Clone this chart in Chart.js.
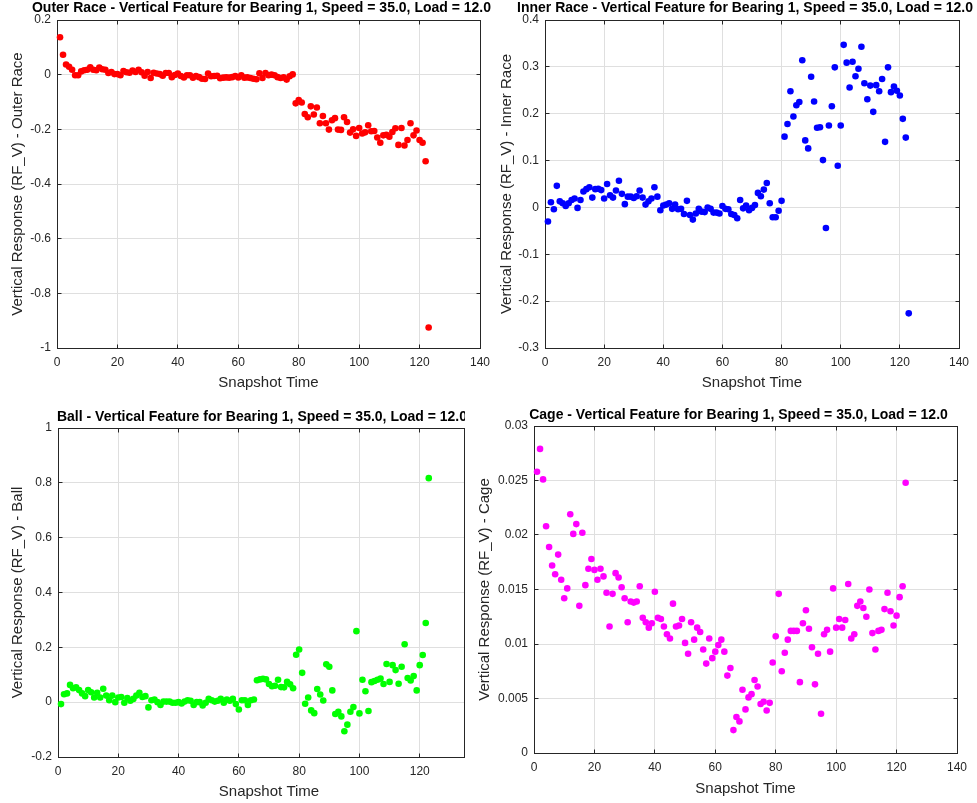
<!DOCTYPE html>
<html>
<head>
<meta charset="utf-8">
<title>Vertical Features for Bearing 1</title>
<script src="https://cdn.jsdelivr.net/npm/chart.js@4.4.1/dist/chart.umd.min.js"></script>
<style>
  html, body { margin: 0; padding: 0; background: #fff; width: 977px; height: 803px; overflow: hidden; }
  .panel { position: absolute; overflow: hidden; }
  .panel canvas { position: absolute; left: 0; top: 0; }
</style>
</head>
<body>
<div class="panel" id="wrapOuter"><canvas id="chartOuter"></canvas></div>
<div class="panel" id="wrapInner"><canvas id="chartInner"></canvas></div>
<div class="panel" id="wrapBall"><canvas id="chartBall"></canvas></div>
<div class="panel" id="wrapCage"><canvas id="chartCage"></canvas></div>
<script>
// Snapshot index for every measurement
const snapshotTimes = [
  1, 2, 3, 4, 5, 6, 7, 8, 9, 10, 11, 12, 13, 14, 15, 16, 17, 18, 19, 20,
  21, 22, 23, 24, 25, 26, 27, 28, 29, 30, 31, 32, 33, 34, 35, 36, 37, 38, 39, 40,
  41, 42, 43, 44, 45, 46, 47, 48, 49, 50, 51, 52, 53, 54, 55, 56, 57, 58, 59, 60,
  61, 62, 63, 64, 65, 66, 67, 68, 69, 70, 71, 72, 73, 74, 75, 76, 77, 78, 79, 80,
  81, 82, 83, 84, 85, 86, 87, 88, 89, 90, 91, 92, 93, 94, 95, 96, 97, 98, 99, 100,
  101, 102, 103, 104, 105, 106, 107, 108, 109, 110, 111, 112, 113, 114, 115, 116, 117, 118, 119, 120,
  121, 122, 123
];

// Vertical response (RF_V) per fault feature
const outerRace = [
  0.137, 0.073, 0.037, 0.029, 0.018, -0.002, -0.002, 0.012, 0.016, 0.018,
  0.027, 0.018, 0.016, 0.026, 0.020, 0.018, 0.006, 0.010, 0.002, 0.002,
  -0.002, 0.013, 0.009, 0.007, 0.015, 0.010, 0.018, 0.009, -0.004, 0.010,
  -0.012, 0.007, 0.004, 0.002, -0.004, 0.006, 0.006, -0.009, -0.001, 0.004,
  -0.005, -0.010, -0.002, -0.002, -0.011, -0.005, -0.009, -0.015, -0.016, 0.004,
  -0.006, -0.005, -0.004, -0.013, -0.011, -0.010, -0.011, -0.009, -0.005, -0.010,
  -0.002, -0.011, -0.010, -0.012, -0.015, -0.017, 0.005, -0.012, 0.006, -0.002,
  0.000, -0.002, -0.009, -0.012, -0.010, -0.018, -0.006, 0.001, -0.105, -0.093,
  -0.102, -0.144, -0.156, -0.116, -0.146, -0.120, -0.178, -0.151, -0.178, -0.201,
  -0.167, -0.159, -0.201, -0.202, -0.156, -0.173, -0.212, -0.200, -0.224, -0.195,
  -0.215, -0.211, -0.185, -0.207, -0.206, -0.230, -0.249, -0.222, -0.220, -0.227,
  -0.210, -0.196, -0.257, -0.195, -0.259, -0.239, -0.178, -0.222, -0.204, -0.239,
  -0.249, -0.317, -0.925
];

const innerRace = [
  -0.030, 0.011, -0.004, 0.046, 0.013, 0.009, 0.003, 0.009, 0.016, 0.019,
  -0.001, 0.016, 0.034, 0.039, 0.043, 0.021, 0.039, 0.040, 0.037, 0.019,
  0.050, 0.026, 0.021, 0.036, 0.057, 0.029, 0.007, 0.023, 0.023, 0.020,
  0.024, 0.036, 0.021, 0.006, 0.013, 0.019, 0.043, 0.023, -0.006, 0.004,
  0.006, 0.009, -0.003, 0.006, -0.004, -0.003, -0.014, 0.014, -0.016, -0.026,
  -0.013, -0.003, -0.009, -0.010, 0.000, -0.003, -0.011, -0.011, -0.013, 0.003,
  -0.003, -0.004, -0.014, -0.016, -0.023, 0.016, -0.002, 0.004, -0.006, -0.001,
  0.005, 0.031, 0.024, 0.038, 0.052, 0.009, -0.021, -0.021, -0.007, 0.014,
  0.151, 0.178, 0.248, 0.194, 0.218, 0.225, 0.314, 0.143, 0.126, 0.279,
  0.226, 0.170, 0.171, 0.101, -0.044, 0.175, 0.216, 0.299, 0.089, 0.175,
  0.347, 0.309, 0.256, 0.311, 0.280, 0.296, 0.343, 0.265, 0.231, 0.260,
  0.204, 0.261, 0.248, 0.274, 0.140, 0.299, 0.246, 0.258, 0.249, 0.239,
  0.189, 0.149, -0.226
];

const ball = [
  -0.007, 0.029, 0.032, 0.063, 0.051, 0.054, 0.044, 0.032, 0.022, 0.044,
  0.036, 0.017, 0.034, 0.017, 0.049, 0.024, 0.007, 0.024, 0.000, 0.017,
  0.019, -0.002, 0.015, 0.005, 0.012, 0.024, 0.034, 0.019, 0.022, -0.019,
  0.007, 0.010, 0.000, -0.010, 0.002, 0.002, 0.002, -0.002, -0.002, 0.000,
  -0.005, 0.002, 0.007, 0.005, -0.010, 0.000, 0.000, -0.012, -0.002, 0.012,
  0.007, 0.002, 0.005, 0.012, -0.002, 0.010, 0.005, 0.012, -0.007, -0.027,
  0.007, 0.007, -0.010, 0.007, 0.010, 0.080, 0.083, 0.085, 0.083, 0.066,
  0.058, 0.060, 0.082, 0.055, 0.054, 0.074, 0.065, 0.051, 0.173, 0.192,
  0.107, -0.006, 0.017, -0.030, -0.040, 0.048, 0.028, 0.006, 0.138, 0.129,
  0.043, -0.043, -0.035, -0.052, -0.106, -0.082, -0.035, -0.018, 0.259, -0.041,
  0.082, 0.040, -0.032, 0.073, 0.077, 0.082, 0.086, 0.066, 0.139, 0.074,
  0.135, 0.117, 0.067, 0.129, 0.211, 0.088, 0.079, 0.095, 0.043, 0.135,
  0.172, 0.289, 0.817
];

const cage = [
  0.0258, 0.0279, 0.0251, 0.0208, 0.0189, 0.0172, 0.0164, 0.0182, 0.0159, 0.0142,
  0.0151, 0.0219, 0.0201, 0.0210, 0.0135, 0.0202, 0.0154, 0.0169, 0.0178, 0.0168,
  0.0159, 0.0169, 0.0162, 0.0147, 0.0116, 0.0146, 0.0165, 0.0161, 0.0152, 0.0142,
  0.0120, 0.0139, 0.0138, 0.0139, 0.0153, 0.0124, 0.0120, 0.0115, 0.0119, 0.0148,
  0.0124, 0.0123, 0.0116, 0.0109, 0.0105, 0.0137, 0.0116, 0.0117, 0.0123, 0.0101,
  0.0091, 0.0120, 0.0104, 0.0115, 0.0111, 0.0095, 0.0082, 0.0105, 0.0087, 0.0093,
  0.0099, 0.0104, 0.0093, 0.0071, 0.0078, 0.0021, 0.0033, 0.0029, 0.0058, 0.0040,
  0.0051, 0.0054, 0.0067, 0.0061, 0.0045, 0.0047, 0.0039, 0.0046, 0.0083, 0.0107,
  0.0146, 0.0075, 0.0092, 0.0104, 0.0112, 0.0112, 0.0112, 0.0065, 0.0119, 0.0131,
  0.0114, 0.0097, 0.0063, 0.0091, 0.0036, 0.0109, 0.0113, 0.0093, 0.0151, 0.0115,
  0.0123, 0.0115, 0.0122, 0.0155, 0.0105, 0.0109, 0.0135, 0.0139, 0.0133, 0.0125,
  0.0150, 0.0110, 0.0095, 0.0112, 0.0113, 0.0132, 0.0147, 0.0130, 0.0117, 0.0126,
  0.0143, 0.0153, 0.0248
];

// Tick labels
const timeTicks = [0, 20, 40, 60, 80, 100, 120, 140];
const outerTicks = [-1, -0.8, -0.6, -0.4, -0.2, 0, 0.2];
const innerTicks = [-0.3, -0.2, -0.1, 0, 0.1, 0.2, 0.3, 0.4];
const ballTicks = [-0.2, 0, 0.2, 0.4, 0.6, 0.8, 1];
const cageTicks = [0, 0.005, 0.01, 0.015, 0.02, 0.025, 0.03];

const FONT = '"Liberation Sans", Arial, Helvetica, sans-serif';
const AXIS_COLOR = '#262626';
const GRID_COLOR = '#dfdfdf';

Chart.defaults.font.family = FONT;

// Box around the plot area, inward tick marks on all four sides and the title
const boxedAxes = {
  id: 'boxedAxes',
  beforeDatasetsDraw(chart, args, opts) {
    const { ctx, chartArea: a, scales: { x, y } } = chart;
    const L = Math.floor(a.left) + 0.5, R = Math.floor(a.right) + 0.5;
    const T = Math.floor(a.top) + 0.5, B = Math.floor(a.bottom) + 0.5;
    const tl = 4;
    ctx.save();
    ctx.strokeStyle = AXIS_COLOR;
    ctx.lineWidth = 1;
    ctx.beginPath();
    x.ticks.forEach(t => {
      const p = Math.floor(x.getPixelForValue(t.value)) + 0.5;
      ctx.moveTo(p, B); ctx.lineTo(p, B - tl);
      ctx.moveTo(p, T); ctx.lineTo(p, T + tl);
    });
    y.ticks.forEach(t => {
      const p = Math.floor(y.getPixelForValue(t.value)) + 0.5;
      ctx.moveTo(L, p); ctx.lineTo(L + tl, p);
      ctx.moveTo(R, p); ctx.lineTo(R - tl, p);
    });
    ctx.stroke();
    ctx.strokeRect(L, T, R - L, B - T);
    if (opts.edgeX !== undefined) {
      ctx.beginPath();
      ctx.moveTo(opts.edgeX + 0.5, T);
      ctx.lineTo(opts.edgeX + 0.5, B);
      ctx.stroke();
    }
    ctx.restore();
  },
  afterDraw(chart, args, opts) {
    const { ctx, chartArea: a } = chart;
    ctx.save();
    ctx.font = 'bold 14px ' + FONT;
    ctx.fillStyle = '#000';
    ctx.textAlign = 'center';
    ctx.textBaseline = 'alphabetic';
    ctx.fillText(opts.text, (a.left + a.right) / 2 + opts.dx, a.top - opts.gap);
    ctx.restore();
  }
};

function makePanel(cfg) {
  const wrap = document.getElementById(cfg.wrap);
  wrap.style.left = cfg.left + 'px';
  wrap.style.top = cfg.top + 'px';
  wrap.style.width = (cfg.clipW || cfg.w) + 'px';
  wrap.style.height = cfg.h + 'px';
  const canvas = document.getElementById(cfg.canvas);
  canvas.width = cfg.w;
  canvas.height = cfg.h;
  canvas.style.width = cfg.w + 'px';
  canvas.style.height = cfg.h + 'px';

  const area = cfg.area; // relative to the panel
  const labelSize = 15;
  const labelLine = labelSize * 1.2;

  new Chart(canvas, {
    type: 'scatter',
    data: {
      datasets: [{
        data: snapshotTimes.map((t, i) => ({ x: t, y: cfg.values[i] })),
        backgroundColor: cfg.color,
        borderColor: cfg.color,
        pointRadius: 3.3,
        pointHoverRadius: 3.3,
        pointBorderWidth: 0,
        clip: false
      }]
    },
    options: {
      responsive: false,
      animation: false,
      devicePixelRatio: 1,
      events: [],
      layout: {
        autoPadding: false,
        padding: { left: 0, top: area.top, right: cfg.w - area.right, bottom: 0 }
      },
      plugins: {
        legend: { display: false },
        tooltip: { enabled: false },
        boxedAxes: { text: cfg.title, dx: -7, gap: cfg.titleGap, edgeX: cfg.edgeX }
      },
      scales: {
        x: {
          type: 'linear',
          min: 0,
          max: 140,
          afterBuildTicks: s => { s.ticks = timeTicks.map(v => ({ value: v })); },
          afterFit: s => {
            s.height = cfg.h - area.bottom;
            s.paddingLeft = 0;
            s.paddingRight = 0;
          },
          grid: { color: GRID_COLOR, drawTicks: false, lineWidth: 1 },
          border: { display: false },
          ticks: {
            padding: 7, color: AXIS_COLOR, font: { size: 12 },
            maxRotation: 0, autoSkip: false, callback: v => String(v)
          },
          title: {
            display: true, text: 'Snapshot Time', color: AXIS_COLOR,
            font: { size: labelSize },
            padding: { top: 0, bottom: cfg.h - cfg.xLabelY - labelLine / 2 }
          }
        },
        y: {
          type: 'linear',
          min: cfg.ticks[0],
          max: cfg.ticks[cfg.ticks.length - 1],
          afterBuildTicks: s => { s.ticks = cfg.ticks.map(v => ({ value: v })); },
          afterFit: s => {
            s.width = area.left;
            s.paddingTop = 0;
            s.paddingBottom = 0;
          },
          grid: { color: GRID_COLOR, drawTicks: false, lineWidth: 1 },
          border: { display: false },
          ticks: {
            padding: 6, color: AXIS_COLOR, font: { size: 12 },
            autoSkip: false, callback: v => String(v)
          },
          title: {
            display: true, text: cfg.yLabel, color: AXIS_COLOR,
            font: { size: labelSize },
            padding: { top: cfg.yLabelX - labelLine / 2, bottom: 0 }
          }
        }
      }
    },
    plugins: [boxedAxes]
  });
}

makePanel({
  wrap: 'wrapOuter', canvas: 'chartOuter',
  left: 0, top: 0, w: 492, h: 400,
  area: { left: 57, top: 20, right: 480, bottom: 348 },
  values: outerRace, color: '#ff0000', ticks: outerTicks,
  title: 'Outer Race - Vertical Feature for Bearing 1, Speed = 35.0, Load = 12.0',
  yLabel: 'Vertical Response (RF_V) - Outer Race',
  titleGap: 8, yLabelX: 18, xLabelY: 383
});

makePanel({
  wrap: 'wrapInner', canvas: 'chartInner',
  left: 492, top: 0, w: 485, h: 400,
  area: { left: 53, top: 20, right: 467, bottom: 348 },
  values: innerRace, color: '#0000ff', ticks: innerTicks,
  title: 'Inner Race - Vertical Feature for Bearing 1, Speed = 35.0, Load = 12.0',
  yLabel: 'Vertical Response (RF_V) - Inner Race',
  titleGap: 8, yLabelX: 15, xLabelY: 383
});

makePanel({
  wrap: 'wrapBall', canvas: 'chartBall',
  left: 0, top: 400, w: 492, h: 403, clipW: 465, edgeX: 464,
  area: { left: 58, top: 28, right: 480, bottom: 357 },
  values: ball, color: '#00ff00', ticks: ballTicks,
  title: 'Ball - Vertical Feature for Bearing 1, Speed = 35.0, Load = 12.0',
  yLabel: 'Vertical Response (RF_V) - Ball',
  titleGap: 7, yLabelX: 18, xLabelY: 391.5
});

makePanel({
  wrap: 'wrapCage', canvas: 'chartCage',
  left: 470, top: 400, w: 507, h: 403,
  area: { left: 64, top: 26, right: 487, bottom: 353 },
  values: cage, color: '#ff00ff', ticks: cageTicks,
  title: 'Cage - Vertical Feature for Bearing 1, Speed = 35.0, Load = 12.0',
  yLabel: 'Vertical Response (RF_V) - Cage',
  titleGap: 7, yLabelX: 15, xLabelY: 389
});
</script>
</body>
</html>
